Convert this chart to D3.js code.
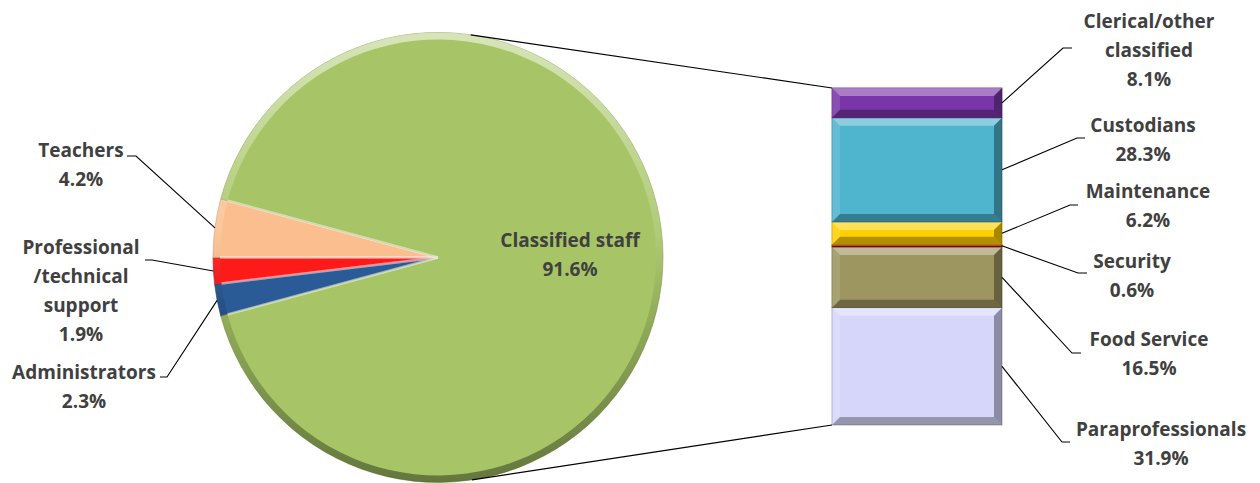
<!DOCTYPE html>
<html>
<head>
<meta charset="utf-8">
<script src="https://cdn.jsdelivr.net/npm/d3@7"></script>
<style>
  body { margin: 0; background: #fff; }
  text { font-family: "Open Sans", Lato, sans-serif; font-weight: bold; fill: #404040; }
</style>
</head>
<body>
<svg id="chart" width="1260" height="483"></svg>
<script>
// pie slices, clockwise from lower left
const pieCategories = ["Administrators", "Professional\n/technical\nsupport", "Teachers", "Classified staff"];
const pieValues = [2.3, 1.9, 4.2, 91.6];
const pieColors = ["#2b5b96", "#ff1a1a", "#fbbf8f", "#a7c566"];

// breakdown of classified staff, bottom to top
const barCategories = ["Paraprofessionals", "Food Service", "Security", "Maintenance", "Custodians", "Clerical/other\nclassified"];
const barValues = [31.9, 16.5, 0.6, 6.2, 28.3, 8.1];
const barColors = ["#d6d6fa", "#9d9660", "#c00000", "#ffd000", "#4fb4ce", "#7a36a8"];

// label placement: text centre x, first line y, elbow x pair, elbow y
const pieLabelPos = [
  { x: 84, y: 372, ex: [167, 160], ey: 377 },
  { x: 81, y: 247, ex: [152, 145], ey: 260 },
  { x: 81, y: 150, ex: [136, 127], ey: 156 },
  { x: 570, y: 240, inside: true }
];
const barLabelPos = [
  { x: 1161, y: 429, ex: [1062, 1070], ey: 442 },
  { x: 1149, y: 339, ex: [1072, 1081], ey: 353 },
  { x: 1132, y: 261, ex: [1078, 1087], ey: 273 },
  { x: 1148, y: 191, ex: [1070, 1078], ey: 205 },
  { x: 1143, y: 125, ex: [1077, 1085], ey: 138 },
  { x: 1149, y: 21, ex: [1063, 1072], ey: 48 }
];

var svg = d3.select("#chart");
var cx = 438, cy = 257.5, r = 225;
var lineH = 29;

var defs = svg.append("defs");
// gradient in the pie group's own coordinates
var rim = defs.append("linearGradient").attr("id", "rimGrad")
  .attr("gradientUnits", "userSpaceOnUse")
  .attr("x1", 0).attr("y1", -r).attr("x2", 0).attr("y2", r);
rim.append("stop").attr("offset", "0%").attr("stop-color", "#fff").attr("stop-opacity", 0.55);
rim.append("stop").attr("offset", "45%").attr("stop-color", "#fff").attr("stop-opacity", 0.1);
rim.append("stop").attr("offset", "60%").attr("stop-color", "#000").attr("stop-opacity", 0.1);
rim.append("stop").attr("offset", "100%").attr("stop-color", "#000").attr("stop-opacity", 0.4);

// pie
var smallTotal = d3.sum(pieValues.slice(0, 3));
var a0 = 1.5 * Math.PI - (smallTotal / 100) * Math.PI;
var pie = d3.pie().sort(null).startAngle(a0).endAngle(a0 + 2 * Math.PI);
var arcs = pie(pieValues);
var arc = d3.arc().innerRadius(0).outerRadius(r);
var rimArc = d3.arc().innerRadius(r - 7).outerRadius(r);

var pg = svg.append("g").attr("transform", `translate(${cx},${cy})`);
pg.selectAll("path.slice")
  .data(arcs)
  .enter()
  .append("path")
  .attr("class", "slice")
  .attr("d", arc)
  .attr("fill", function(d, i) { return pieColors[i]; })
  .attr("stroke", function(d, i) { return d3.color(pieColors[i]).darker(0.6); })
  .attr("stroke-width", 0.6);

// light edges along the radial sides
pg.selectAll("path.edge")
  .data(arcs)
  .enter()
  .append("path")
  .attr("class", "edge")
  .attr("d", function(d) {
    var s = d.startAngle, e = d.endAngle;
    var p1 = [Math.sin(s) * (r - 7), -Math.cos(s) * (r - 7)];
    var p2 = [Math.sin(e) * (r - 7), -Math.cos(e) * (r - 7)];
    return `M0,0L${p1[0]},${p1[1]}M0,0L${p2[0]},${p2[1]}`;
  })
  .attr("stroke", "#fff")
  .attr("stroke-opacity", 0.3)
  .attr("stroke-width", 2.5)
  .attr("fill", "none");

pg.selectAll("path.rim")
  .data(arcs)
  .enter()
  .append("path")
  .attr("class", "rim")
  .attr("d", rimArc)
  .attr("fill", "url(#rimGrad)");

// bar
var bx0 = 832, bx1 = 1002;
var y = d3.scaleLinear().domain([0, d3.sum(barValues)]).range([425, 88]);
var cum = 0;
var segs = barValues.map(function(v, i) {
  var s = { i: i, v: v, y0: cum, y1: cum + v };
  cum += v;
  return s;
});

var bg = svg.append("g");
var seg = bg.selectAll("g.seg").data(segs).enter().append("g").attr("class", "seg");
seg.append("rect")
  .attr("x", bx0)
  .attr("width", bx1 - bx0)
  .attr("y", function(d) { return y(d.y1); })
  .attr("height", function(d) { return y(d.y0) - y(d.y1); })
  .attr("fill", function(d) { return barColors[d.i]; })
  .attr("stroke", function(d) { return d3.color(barColors[d.i]).darker(0.8); })
  .attr("stroke-width", 0.8);

var bevels = [
  { side: "top", color: "#fff", op: 0.35 },
  { side: "left", color: "#fff", op: 0.12 },
  { side: "bottom", color: "#000", op: 0.3 },
  { side: "right", color: "#000", op: 0.35 }
];
seg.each(function(d) {
  var top = y(d.y1), bot = y(d.y0);
  var b = Math.min(8, (bot - top) / 2);
  var g = d3.select(this);
  bevels.forEach(function(bv) {
    var pts;
    if (bv.side === "top") pts = [[bx0, top], [bx1, top], [bx1 - b, top + b], [bx0 + b, top + b]];
    if (bv.side === "bottom") pts = [[bx0, bot], [bx1, bot], [bx1 - b, bot - b], [bx0 + b, bot - b]];
    if (bv.side === "left") pts = [[bx0, top], [bx0 + b, top + b], [bx0 + b, bot - b], [bx0, bot]];
    if (bv.side === "right") pts = [[bx1, top], [bx1 - b, top + b], [bx1 - b, bot - b], [bx1, bot]];
    g.append("path")
      .attr("d", d3.line()(pts) + "Z")
      .attr("fill", bv.color)
      .attr("fill-opacity", bv.op);
  });
});

// connector lines, tangent to the pie
function tangent(px, py, upper) {
  var dx = px - cx, dy = py - cy;
  var d = Math.sqrt(dx * dx + dy * dy);
  var th = Math.atan2(dy, dx);
  var t = th + (upper ? -1 : 1) * Math.acos(r / d);
  return [cx + r * Math.cos(t), cy + r * Math.sin(t)];
}
var topPt = tangent(bx0, y(d3.sum(barValues)), true);
var botPt = tangent(bx0, y(0), false);
svg.append("line")
  .attr("x1", topPt[0]).attr("y1", topPt[1])
  .attr("x2", bx0).attr("y2", y(d3.sum(barValues)))
  .attr("stroke", "#000").attr("stroke-width", 1.2);
svg.append("line")
  .attr("x1", botPt[0]).attr("y1", botPt[1])
  .attr("x2", bx0).attr("y2", y(0))
  .attr("stroke", "#000").attr("stroke-width", 1.2);

// labels
function drawLabel(name, value, pos) {
  var lines = name.split("\n").concat([value.toFixed(1) + "%"]);
  var t = svg.append("text")
    .attr("text-anchor", "middle")
    .attr("font-size", 19);
  lines.forEach(function(l, k) {
    t.append("tspan")
      .attr("x", pos.x)
      .attr("y", pos.y + k * lineH)
      .attr("dy", "0.35em")
      .text(l);
  });
}

var leader = d3.line();
arcs.forEach(function(d, i) {
  var pos = pieLabelPos[i];
  drawLabel(pieCategories[i], pieValues[i], pos);
  if (pos.inside) return;
  var m = (d.startAngle + d.endAngle) / 2;
  var sp = [cx + Math.sin(m) * r, cy - Math.cos(m) * r];
  svg.append("path")
    .attr("d", leader([[pos.ex[1], pos.ey], [pos.ex[0], pos.ey], sp]))
    .attr("fill", "none")
    .attr("stroke", "#000")
    .attr("stroke-width", 1.1);
});

segs.forEach(function(d, i) {
  var pos = barLabelPos[i];
  drawLabel(barCategories[i], barValues[i], pos);
  var sp = [bx1, (y(d.y0) + y(d.y1)) / 2];
  svg.append("path")
    .attr("d", leader([sp, [pos.ex[0], pos.ey], [pos.ex[1], pos.ey]]))
    .attr("fill", "none")
    .attr("stroke", "#000")
    .attr("stroke-width", 1.1);
});
</script>
</body>
</html>
